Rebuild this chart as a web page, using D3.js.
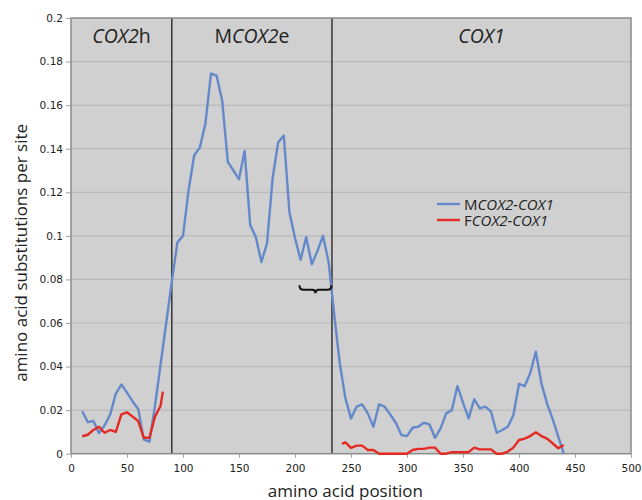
<!DOCTYPE html>
<html>
<head>
<meta charset="utf-8">
<script src="https://cdn.jsdelivr.net/npm/d3@7"></script>
<style>
  body { margin: 0; background: #fff; }
  svg { display: block; }
</style>
</head>
<body>
<div id="chart"></div>
<script>
// ---------------------------------------------------------------------------
// Data
// ---------------------------------------------------------------------------

// MCOX2-COX1 (blue)
var mPos = [10, 15, 20, 25, 30, 35, 40, 45, 50, 55, 60, 65, 70, 75, 80, 85,
            90, 95, 100, 105, 110, 115, 120, 125, 130, 135, 140, 145, 150, 155,
            160, 165, 170, 175, 180, 185, 190, 195, 200, 205, 210, 215, 220, 225,
            230, 235, 240, 245, 250, 255, 260, 265, 270, 275, 280, 285, 290, 295,
            300, 305, 310, 315, 320, 325, 330, 335, 340, 345, 350, 355, 360, 365,
            370, 375, 380, 385, 390, 395, 400, 405, 410, 415, 420, 425, 430, 435, 440];
var mVal = [0.0195, 0.0145, 0.015, 0.0095, 0.013, 0.018, 0.0275, 0.0318, 0.028, 0.024,
            0.0205, 0.0065, 0.0055, 0.022, 0.041, 0.060,
            0.079, 0.097, 0.100, 0.121, 0.137, 0.1405, 0.1515, 0.1745, 0.1735, 0.162,
            0.134, 0.130, 0.126, 0.139, 0.105, 0.0995, 0.088, 0.0965, 0.1263, 0.143,
            0.146, 0.111, 0.099, 0.089, 0.0995, 0.087, 0.093, 0.100, 0.088, 0.064,
            0.0414, 0.0254, 0.0162, 0.0216, 0.0226, 0.0185, 0.0124, 0.0226, 0.0216,
            0.018, 0.0142, 0.0086, 0.0081, 0.0119, 0.0124, 0.0142, 0.0135, 0.0073,
            0.0116, 0.0185, 0.020, 0.031, 0.0234, 0.0162, 0.025, 0.0208, 0.0216,
            0.0193, 0.0096, 0.0109, 0.0124, 0.0177, 0.032, 0.031, 0.0369, 0.0468,
            0.0323, 0.0231, 0.016, 0.008, 0.0];

// FCOX2-COX1 (red) -- null marks the gap in the series
var fPos = [10, 15, 20, 25, 30, 35, 40, 45, 50, 55, 60, 65, 70, 75, 80, 82,
            160,
            242, 245, 250, 255, 260, 265, 270, 275, 280, 285, 290, 295, 300, 305,
            310, 315, 320, 325, 330, 335, 340, 345, 350, 355, 360, 365, 370, 375,
            380, 385, 390, 395, 400, 405, 410, 415, 420, 425, 430, 435, 440];
var fVal = [0.008, 0.0087, 0.0109, 0.0124, 0.0096, 0.0109, 0.010, 0.018, 0.019, 0.017,
            0.015, 0.0073, 0.0073, 0.017, 0.022, 0.0285,
            null,
            0.0045, 0.0052, 0.0027, 0.0037, 0.0037, 0.0017, 0.0017, 0, 0, 0, 0, 0, 0,
            0.0017, 0.0022, 0.0022, 0.0028, 0.0028, 0, 0, 0.0007, 0.0007, 0.0007,
            0.0007, 0.0028, 0.002, 0.002, 0.002, 0, 0, 0.001, 0.0028, 0.0063, 0.0069,
            0.0081, 0.0098, 0.0081, 0.0069, 0.0048, 0.0025, 0.004];

// Region boundaries and labels
var boundaries = [90, 233];
var regionStart = [0, 90, 233];
var regionEnd = [90, 233, 500];
var regionPre = ["", "M", ""];
var regionItalic = ["COX2", "COX2", "COX1"];
var regionPost = ["h", "e", ""];

// Brace annotation (amino acid positions, substitutions per site)
var braceFrom = 204, braceTo = 232.5, braceLevel = 0.0773;

// Axis ticks
var xTicks = [0, 50, 100, 150, 200, 250, 300, 350, 400, 450, 500];
var yTicks = [0, 0.02, 0.04, 0.06, 0.08, 0.1, 0.12, 0.14, 0.16, 0.18, 0.2];

// Legend
var legendPre = ["M", "F"];
var legendItalic = ["COX2-COX1", "COX2-COX1"];
var legendColor = ["#6489ca", "#e42a22"];

// ---------------------------------------------------------------------------
// Dimensions
// ---------------------------------------------------------------------------

var width = 642,
    height = 500;

var margin = { top: 18, right: 11, bottom: 46.3, left: 71 },
    iwidth = width - margin.left - margin.right,
    iheight = height - margin.top - margin.bottom;

var svg = d3.select("#chart")
  .append("svg")
  .attr("width", width)
  .attr("height", height);

var g = svg.append("g")
  .attr("transform", `translate(${margin.left},${margin.top})`);

// ---------------------------------------------------------------------------
// Scales
// ---------------------------------------------------------------------------

var x = d3.scaleLinear().domain([0, 500]).range([0, iwidth]);
var y = d3.scaleLinear().domain([0, 0.2]).range([iheight, 0]);

// ---------------------------------------------------------------------------
// Plot area background + grid
// ---------------------------------------------------------------------------

g.append("rect")
  .attr("width", iwidth)
  .attr("height", iheight)
  .attr("fill", "#d0d0d0");

g.append("g")
  .selectAll("line")
  .data(yTicks.filter(d => d > 0 && d < 0.2))
  .enter()
  .append("line")
  .attr("x1", 0)
  .attr("x2", iwidth)
  .attr("y1", d => y(d))
  .attr("y2", d => y(d))
  .attr("stroke", "#b9b9b9")
  .attr("stroke-width", 1.2);

// region dividers
g.append("g")
  .selectAll("line")
  .data(boundaries)
  .enter()
  .append("line")
  .attr("x1", d => x(d))
  .attr("x2", d => x(d))
  .attr("y1", 0)
  .attr("y2", iheight)
  .attr("stroke", "#2a2a2a")
  .attr("stroke-width", 1.4);

// border
g.append("rect")
  .attr("width", iwidth)
  .attr("height", iheight)
  .attr("fill", "none")
  .attr("stroke", "#8a8a8a")
  .attr("stroke-width", 1.5);

// ---------------------------------------------------------------------------
// Axes
// ---------------------------------------------------------------------------

var yAxis = g.append("g")
  .call(d3.axisLeft(y).tickValues(yTicks).tickSize(5).tickPadding(3)
    .tickFormat(d => d3.format("~g")(d)));
yAxis.select(".domain").remove();
yAxis.selectAll(".tick line").attr("stroke", "#a0a0a0");
yAxis.selectAll("text")
  .attr("font-family", "DejaVu Sans, Verdana, sans-serif")
  .attr("font-size", 10.5)
  .attr("fill", "#222");

var xAxis = g.append("g")
  .attr("transform", `translate(0,${iheight})`)
  .call(d3.axisBottom(x).tickValues(xTicks).tickSize(4).tickPadding(7));
xAxis.select(".domain").remove();
xAxis.selectAll(".tick line").attr("stroke", "#a0a0a0");
xAxis.selectAll("text")
  .attr("font-family", "DejaVu Sans, Verdana, sans-serif")
  .attr("font-size", 10.5)
  .attr("fill", "#222");

// axis titles
svg.append("text")
  .attr("transform", `translate(27,${margin.top + iheight / 2 + 17})rotate(-90)`)
  .attr("text-anchor", "middle")
  .attr("font-family", "Open Sans, sans-serif")
  .attr("font-size", 17)
  .attr("fill", "#222")
  .text("amino acid substitutions per site");

svg.append("text")
  .attr("x", margin.left + x(245))
  .attr("y", 497)
  .attr("text-anchor", "middle")
  .attr("font-family", "Open Sans, sans-serif")
  .attr("font-size", 17)
  .attr("fill", "#222")
  .text("amino acid position");

// ---------------------------------------------------------------------------
// Region labels
// ---------------------------------------------------------------------------

var labels = g.append("g")
  .selectAll("text")
  .data(regionStart.map((s, i) => i))
  .enter()
  .append("text")
  .attr("x", i => x((regionStart[i] + regionEnd[i]) / 2))
  .attr("y", 25)
  .attr("text-anchor", "middle")
  .attr("font-family", "Open Sans, sans-serif")
  .attr("font-size", 19.5)
  .attr("fill", "#222");

labels.append("tspan").text(i => regionPre[i]);
labels.append("tspan").attr("font-style", "italic").text(i => regionItalic[i]);
labels.append("tspan").text(i => regionPost[i]);

// ---------------------------------------------------------------------------
// Lines
// ---------------------------------------------------------------------------

var mData = mPos.map((p, i) => ({ pos: p, v: mVal[i] }));
var fData = fPos.map((p, i) => ({ pos: p, v: fVal[i] }));

var line = d3.line()
  .defined(d => d.v !== null)
  .x(d => x(d.pos))
  .y(d => y(d.v));

g.append("path")
  .datum(mData)
  .attr("d", line)
  .attr("fill", "none")
  .attr("stroke", legendColor[0])
  .attr("stroke-width", 2.4)
  .attr("stroke-linejoin", "round");

g.append("path")
  .datum(fData)
  .attr("d", line)
  .attr("fill", "none")
  .attr("stroke", legendColor[1])
  .attr("stroke-width", 2.4)
  .attr("stroke-linejoin", "round");

// ---------------------------------------------------------------------------
// Brace
// ---------------------------------------------------------------------------

var bx0 = x(braceFrom), bx1 = x(braceTo), by = y(braceLevel),
    bm = (bx0 + bx1) / 2;
var bracePath = d3.path();
bracePath.moveTo(bx0, by);
bracePath.quadraticCurveTo(bx0, by + 4.5, bx0 + 4, by + 4.5);
bracePath.lineTo(bm - 3, by + 4.5);
bracePath.quadraticCurveTo(bm, by + 4.5, bm, by + 8);
bracePath.quadraticCurveTo(bm, by + 4.5, bm + 3, by + 4.5);
bracePath.lineTo(bx1 - 4, by + 4.5);
bracePath.quadraticCurveTo(bx1, by + 4.5, bx1, by);

g.append("path")
  .attr("d", bracePath.toString())
  .attr("fill", "none")
  .attr("stroke", "#111")
  .attr("stroke-width", 2);

// ---------------------------------------------------------------------------
// Legend
// ---------------------------------------------------------------------------

var legendX = 437, legendY = 204, legendGap = 16;

var legend = svg.append("g")
  .selectAll("g")
  .data(legendPre.map((p, i) => i))
  .enter()
  .append("g")
  .attr("transform", i => `translate(${legendX},${legendY + i * legendGap})`);

legend.append("line")
  .attr("x1", 0)
  .attr("x2", 23)
  .attr("stroke", i => legendColor[i])
  .attr("stroke-width", 2.4);

var legendText = legend.append("text")
  .attr("x", 27)
  .attr("y", 5.5)
  .attr("font-family", "Open Sans, sans-serif")
  .attr("font-size", 15)
  .attr("fill", "#222");

legendText.append("tspan").text(i => legendPre[i]);
legendText.append("tspan").attr("font-style", "italic").text(i => legendItalic[i]);
</script>
</body>
</html>
